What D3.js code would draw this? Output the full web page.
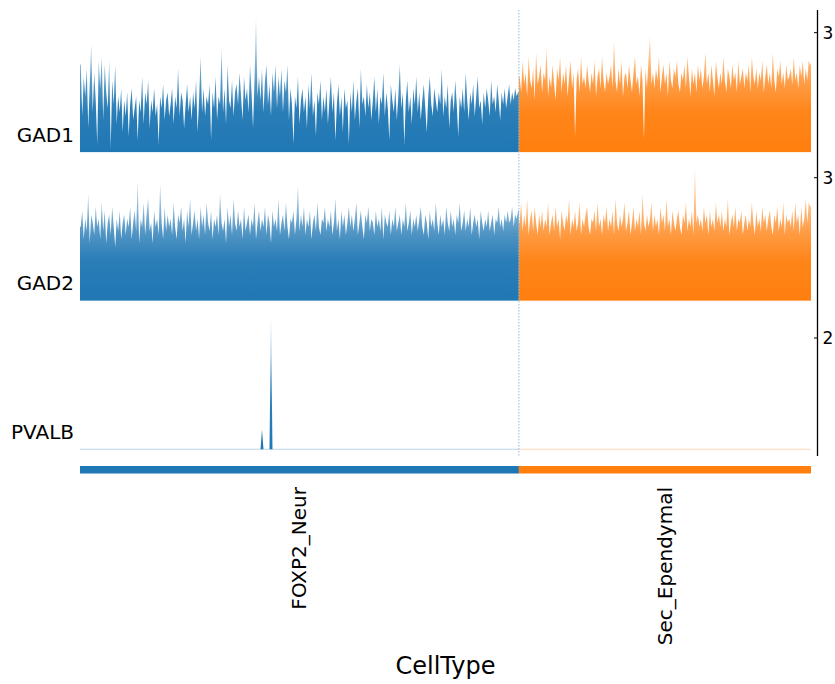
<!DOCTYPE html>
<html>
<head>
<meta charset="utf-8">
<script src="https://cdn.jsdelivr.net/npm/d3@7"></script>
<style>
body { margin: 0; background: #fff; }
svg { display: block; font-family: "DejaVu Sans", sans-serif; }
</style>
</head>
<body>
<div id="chart"></div>
<script>
var groups = ["FOXP2_Neur", "Sec_Ependymal"];
var groupColors = ["#1f77b4", "#ff7f0e"];
var genes = ["GAD1", "GAD2", "PVALB"];
var axisTitle = "CellType";

// per-cell expression, cells ordered by group
var gad1_FOXP2 = [
	2.2, 0.9, 1.9, 1.4, 2.1, 0.6, 1.7, 2.7, 1.0, 2.0, 1.3, 0.2, 2.3, 1.6, 2.4,
	0.8, 2.2, 1.5, 1.1, 2.3, 0.1, 1.8, 1.2, 2.2, 0.7, 1.4, 1.0, 1.6, 0.5, 1.3,
	0.9, 1.5, 0.4, 1.2, 1.6, 0.8, 1.1, 1.4, 0.3, 1.3, 1.0, 1.9, 0.7, 1.5, 1.2,
	1.8, 0.6, 1.3, 1.0, 1.6, 0.9, 1.2, 0.2, 1.4, 1.1, 1.7, 0.8, 1.3, 1.5, 0.9,
	1.2, 1.6, 0.7, 1.4, 1.1, 2.1, 0.9, 1.5, 1.3, 0.6, 1.2, 1.7, 1.0, 1.4, 0.8,
	1.5, 1.1, 1.8, 0.5, 1.3, 2.4, 1.0, 1.6, 0.9, 1.4, 1.2, 1.7, 0.3, 1.5, 1.1,
	1.9, 0.8, 1.4, 1.2, 2.6, 1.0, 1.6, 0.7, 2.2, 1.3, 1.1, 1.8, 0.9, 1.5, 1.7,
	1.2, 2.0, 1.4, 0.8, 1.9, 1.3, 1.6, 1.0, 2.2, 1.5, 0.6, 1.8, 3.4, 1.4, 1.9,
	1.3, 2.1, 1.0, 1.8, 2.2, 1.2, 1.7, 0.9, 2.0, 1.5, 2.2, 1.1, 1.9, 1.4, 2.1,
	1.0, 1.8, 1.5, 2.2, 0.8, 1.6, 1.2, 0.2, 1.4, 1.1, 1.9, 0.7, 1.3, 1.6, 1.0,
	1.4, 0.6, 1.7, 1.1, 2.0, 0.9, 1.3, 0.4, 1.5, 1.2, 1.8, 0.8, 1.4, 1.0, 1.6,
	0.7, 1.3, 1.9, 1.0, 1.5, 0.3, 1.2, 1.7, 0.9, 1.4, 0.5, 1.6, 1.1, 1.3, 0.2,
	1.5, 1.0, 1.8, 0.8, 1.3, 1.6, 0.6, 2.1, 1.2, 1.4, 0.9, 1.7, 1.1, 1.5, 0.8,
	1.3, 1.9, 1.0, 1.6, 0.7, 1.4, 1.2, 2.0, 0.9, 1.5, 1.1, 0.3, 1.7, 1.3, 1.0,
	1.6, 0.8, 1.4, 2.2, 1.1, 1.5, 0.2, 1.3, 1.8, 1.0, 1.4, 0.7, 1.6, 1.2, 1.9,
	1.0, 1.5, 0.8, 1.3, 1.7, 1.1, 0.5, 1.4, 1.9, 1.2, 0.9, 1.6, 1.3, 1.0, 1.5,
	1.2, 2.1, 0.9, 1.4, 1.1, 1.7, 0.6, 1.3, 1.5, 1.0, 1.8, 1.2, 0.4, 1.4, 1.1,
	1.6, 1.0, 2.0, 1.3, 0.8, 1.5, 1.2, 1.7, 0.9, 1.4, 1.9, 1.1, 1.3, 0.7, 1.5,
	1.1, 1.6, 1.3, 0.9, 1.8, 1.2, 1.4, 1.0, 1.7, 1.3, 0.8, 1.5, 1.2, 1.6, 1.1,
	1.4, 1.7, 1.2, 1.5, 1.3, 1.6, 1.4, 1.5
];
var gad1_Sec = [
	1.9, 1.5, 2.3, 1.7, 2.0, 1.4, 2.4, 1.8, 1.6, 2.1, 1.3, 2.5, 1.7, 1.9, 2.2,
	1.5, 2.0, 1.8, 2.6, 1.4, 1.9, 1.6, 2.2, 1.7, 1.3, 2.1, 1.8, 2.4, 1.5, 2.0,
	1.7, 2.2, 1.4, 1.9, 2.3, 1.6, 2.0, 0.4, 1.8, 2.1, 1.5, 2.4, 1.7, 1.9, 1.6,
	2.2, 1.8, 1.5, 2.0, 1.7, 2.3, 1.4, 1.9, 2.1, 1.6, 2.4, 1.8, 1.5, 2.0, 1.7,
	1.9, 2.2, 1.6, 2.8, 1.8, 1.5, 2.1, 1.7, 2.3, 1.4, 1.9, 2.0, 1.6, 2.2, 1.8,
	1.5, 2.0, 2.4, 1.7, 1.9, 1.4, 2.2, 1.8, 0.3, 2.1, 1.6, 2.3, 2.9, 1.7, 2.0,
	1.6, 2.1, 1.8, 2.4, 1.5, 1.9, 2.2, 1.7, 2.0, 1.4, 2.3, 1.8, 1.6, 2.1, 1.9,
	2.3, 1.7, 1.5, 2.0, 1.8, 2.2, 1.6, 2.4, 1.9, 1.4, 2.1, 1.7, 2.0, 1.5, 2.2,
	1.8, 2.1, 1.6, 1.9, 2.5, 1.7, 2.0, 1.5, 2.2, 1.8, 1.4, 2.3, 1.9, 1.6, 2.0,
	1.7, 2.4, 1.8, 1.5, 2.1, 1.9, 1.6, 2.2, 1.8, 2.0, 1.5, 2.3, 1.7, 1.9, 2.1,
	1.6, 2.0, 1.8, 2.2, 1.5, 2.4, 1.9, 1.7, 2.1, 1.6, 2.0, 1.8, 2.3, 1.5, 1.9,
	2.2, 1.7, 2.0, 1.6, 2.5, 1.8, 1.5, 2.1, 1.9, 2.3, 1.7, 2.0, 1.6, 2.2, 1.8,
	1.9, 2.1, 1.7, 2.4, 1.8, 2.0, 1.6, 2.2, 1.9, 2.3, 1.7, 2.1, 1.8, 2.3, 2.2
];
var gad2_FOXP2 = [
	1.8, 2.2, 1.5, 2.0, 1.7, 2.6, 1.4, 2.1, 1.9, 1.6, 2.3, 1.8, 2.0, 1.5, 2.4,
	1.7, 2.2, 1.4, 1.9, 2.1, 1.6, 2.3, 1.8, 1.3, 2.0, 1.7, 2.2, 1.5, 1.9, 2.1,
	1.6, 2.0, 1.8, 2.3, 1.5, 1.9, 2.2, 1.7, 2.9, 1.4, 2.0, 1.8, 2.4, 1.6, 2.1,
	2.5, 1.7, 1.9, 1.4, 2.2, 1.8, 2.0, 1.6, 2.85, 1.9, 1.5, 2.3, 1.7, 2.1, 1.8,
	2.0, 1.6, 2.4, 1.8, 1.5, 2.1, 1.9, 2.3, 1.7, 2.0, 1.4, 2.2, 1.8, 2.5, 1.6,
	1.9, 2.2, 1.7, 2.0, 1.5, 2.3, 1.8, 2.1, 1.6, 2.4, 1.9, 1.7, 2.2, 1.5, 2.0,
	1.8, 2.1, 1.6, 2.6, 1.9, 1.7, 2.0, 1.4, 2.3, 1.8, 2.1, 1.6, 2.5, 1.9, 1.7,
	2.2, 1.8, 2.0, 1.5, 2.3, 1.7, 1.9, 2.1, 1.6, 2.0, 1.8, 2.4, 1.5, 1.9, 2.2,
	1.7, 2.0, 1.8, 2.3, 1.6, 2.1, 1.9, 1.4, 2.2, 1.8, 2.0, 1.7, 2.5, 1.6, 1.9,
	2.1, 1.7, 2.4, 1.8, 1.5, 2.0, 1.9, 2.2, 1.6, 2.0, 2.8, 1.7, 2.1, 1.8, 2.3,
	1.6, 2.0, 1.8, 2.2, 1.5, 1.9, 2.1, 1.7, 2.4, 1.8, 1.6, 2.0, 1.9, 2.3, 1.7,
	2.0, 1.8, 2.2, 1.6, 1.9, 2.5, 1.7, 2.0, 1.5, 2.2, 1.8, 2.1, 1.6, 1.9, 2.3,
	1.8, 2.1, 1.7, 2.0, 2.4, 1.6, 1.9, 2.2, 1.8, 1.5, 2.1, 1.9, 2.3, 1.7, 2.0,
	1.9, 1.6, 2.2, 1.8, 2.0, 1.7, 2.3, 1.5, 2.1, 1.9, 1.8, 2.2, 1.6, 2.0, 1.8,
	2.3, 1.7, 1.9, 2.1, 1.6, 2.0, 1.8, 2.4, 1.7, 1.9, 2.2, 1.6, 2.0, 1.8, 2.1,
	1.7, 2.0, 2.3, 1.8, 1.6, 2.1, 1.9, 1.5, 2.2, 1.8, 2.0, 1.7, 2.4, 1.9, 1.6,
	2.1, 1.8, 2.0, 1.6, 2.3, 1.9, 1.7, 2.2, 1.8, 2.0, 1.6, 2.1, 1.9, 2.4, 1.7,
	1.9, 2.2, 1.7, 2.0, 1.8, 2.3, 1.6, 1.9, 2.1, 1.8, 2.0, 1.5, 2.2, 1.9, 1.7,
	2.0, 1.8, 2.2, 1.7, 1.9, 2.1, 1.6, 2.0, 1.9, 2.3, 1.8, 2.0, 1.7, 2.1, 1.9,
	2.2, 1.9, 2.0, 2.3, 1.8, 2.1, 2.0, 2.2
];
var gad2_Sec = [
	1.9, 2.4, 1.7, 2.1, 1.8, 2.5, 1.6, 2.0, 2.2, 1.7, 2.3, 1.9, 1.6, 2.1, 1.8,
	2.2, 1.7, 2.0, 1.8, 2.4, 1.6, 1.9, 2.1, 1.7, 2.3, 1.8, 2.0, 1.5, 2.2, 1.9,
	1.7, 2.1, 1.9, 2.5, 1.6, 2.0, 1.8, 2.2, 1.7, 1.9, 2.4, 1.6, 2.0, 1.8, 2.1,
	2.3, 1.8, 1.6, 2.0, 1.9, 2.2, 1.7, 2.4, 1.8, 2.0, 1.6, 2.1, 1.9, 2.3, 1.7,
	2.0, 1.8, 2.2, 1.6, 2.5, 1.9, 1.7, 2.1, 1.8, 2.0, 2.4, 1.7, 1.9, 2.2, 1.6,
	1.9, 2.3, 1.7, 2.0, 1.8, 2.2, 1.6, 2.6, 1.9, 1.7, 2.1, 1.8, 2.0, 2.4, 1.7,
	2.1, 1.8, 2.0, 1.6, 2.3, 1.9, 2.1, 1.7, 2.5, 1.8, 2.0, 1.6, 2.2, 1.9, 1.7,
	2.0, 2.2, 1.8, 1.6, 2.1, 1.9, 2.4, 1.7, 2.0, 1.8, 2.2, 1.6, 3.3, 1.9, 2.1,
	1.8, 2.0, 1.7, 2.3, 1.9, 2.1, 1.6, 2.2, 1.8, 2.0, 1.7, 2.4, 1.9, 2.1, 1.8,
	2.2, 1.7, 2.0, 1.8, 2.5, 1.6, 1.9, 2.1, 1.8, 2.3, 1.7, 2.0, 1.9, 2.2, 1.6,
	1.9, 2.1, 1.7, 2.0, 1.8, 2.4, 1.9, 1.6, 2.2, 1.8, 2.0, 1.7, 2.3, 1.9, 2.1,
	1.7, 2.0, 2.2, 1.8, 1.6, 2.1, 1.9, 2.3, 1.7, 2.0, 1.8, 2.4, 1.6, 2.1, 1.9,
	2.0, 1.8, 2.2, 1.7, 2.4, 1.9, 2.1, 1.6, 2.3, 1.8, 2.0, 2.5, 1.9, 2.4, 2.3
];
// PVALB is zero everywhere except two FOXP2_Neur cells: [cell index, value]
var pvalb_FOXP2_nonzero = [[121, 0.36], [127, 2.43]];

var nFoxp2 = gad1_FOXP2.length;
var nSec = gad1_Sec.length;

var pvalb_FOXP2 = d3.range(nFoxp2).map(function() { return 0; });
pvalb_FOXP2_nonzero.forEach(function(p) { pvalb_FOXP2[p[0]] = p[1]; });
var pvalb_Sec = d3.range(nSec).map(function() { return 0; });

var tracks = [
	[gad1_FOXP2, gad1_Sec],
	[gad2_FOXP2, gad2_Sec],
	[pvalb_FOXP2, pvalb_Sec]
];
var groupSizes = [nFoxp2, nSec];
var nCells = nFoxp2 + nSec;

var W = 835, H = 684;
var plotLeft = 80, plotRight = 811, plotTop = 10, trackH = 148.67, spineX = 817.5;

var svg = d3.select("#chart").append("svg")
	.attr("width", W)
	.attr("height", H);
var defs = svg.append("defs");

var x = d3.scaleLinear().domain([0, nCells]).range([plotLeft, plotRight]);

var offsets = [0, nFoxp2];

tracks.forEach(function(track, t) {
	var axTop = plotTop + t * trackH;
	var axBot = axTop + trackH;
	var ymax = d3.max([d3.max(track[0]), d3.max(track[1])]);
	var y = d3.scaleLinear().domain([-0.05 * ymax, 1.05 * ymax]).range([axBot, axTop]);

	var area = d3.area()
		.x(function(d) { return x(d.i); })
		.y0(y(0))
		.y1(function(d) { return y(d.v); });

	track.forEach(function(vals, g) {
		var o = offsets[g];
		var n = vals.length;
		var pts = [{i: o, v: vals[0]}];
		vals.forEach(function(v, j) { pts.push({i: o + j + 0.5, v: v}); });
		pts.push({i: o + n, v: vals[n - 1]});

		// dense cells blend into a lighter top, like the anti-aliased original
		var gid = "fade" + t + "_" + g;
		var grad = defs.append("linearGradient")
			.attr("id", gid)
			.attr("gradientUnits", "userSpaceOnUse")
			.attr("x1", 0).attr("x2", 0)
			.attr("y1", y(0)).attr("y2", y(ymax));
		[[0, 1], [0.3, 0.95], [0.5, 0.78], [0.7, 0.5], [1, 0.25]].forEach(function(s) {
			grad.append("stop")
				.attr("offset", s[0])
				.attr("stop-color", groupColors[g])
				.attr("stop-opacity", s[1]);
		});

		svg.append("line")
			.attr("x1", x(o)).attr("x2", x(o + n))
			.attr("y1", y(0)).attr("y2", y(0))
			.attr("stroke", groupColors[g])
			.attr("stroke-opacity", 0.3)
			.attr("stroke-width", 1);

		svg.append("path")
			.datum(pts)
			.attr("fill", "url(#" + gid + ")")
			.attr("d", area);
	});

	// gene name on the left
	svg.append("text")
		.attr("x", 74)
		.attr("y", axBot - 17)
		.attr("text-anchor", "end")
		.attr("font-size", "20px")
		.attr("fill", "#000")
		.text(genes[t]);

	// one tick on the right spine at int(ylim top)
	var tv = Math.floor(1.05 * ymax);
	svg.append("line")
		.attr("x1", spineX - 3.5).attr("x2", spineX)
		.attr("y1", y(tv)).attr("y2", y(tv))
		.attr("stroke", "#000").attr("stroke-width", 1);
	svg.append("text")
		.attr("x", spineX + 5)
		.attr("y", y(tv))
		.attr("dy", "0.36em")
		.attr("font-size", "17px")
		.attr("fill", "#000")
		.text(String(tv));
});

var axBottom = plotTop + 3 * trackH;

// right spine
svg.append("line")
	.attr("x1", spineX).attr("x2", spineX)
	.attr("y1", plotTop).attr("y2", axBottom)
	.attr("stroke", "#000").attr("stroke-width", 1.3);

// group separator
svg.append("line")
	.attr("x1", x(nFoxp2)).attr("x2", x(nFoxp2))
	.attr("y1", plotTop).attr("y2", axBottom)
	.attr("stroke", "#8fbde0")
	.attr("stroke-width", 1)
	.attr("stroke-dasharray", "1.5,1.5");

// group colour bar and labels
var cum = 0;
groups.forEach(function(name, g) {
	var x0 = x(cum), x1 = x(cum + groupSizes[g]);
	cum += groupSizes[g];
	svg.append("rect")
		.attr("x", x0).attr("y", 466)
		.attr("width", x1 - x0).attr("height", 7.5)
		.attr("fill", groupColors[g]);
	svg.append("text")
		.attr("transform", "translate(" + ((x0 + x1) / 2) + ",487) rotate(-90)")
		.attr("text-anchor", "end")
		.attr("dy", "0.35em")
		.attr("font-size", "20px")
		.attr("fill", "#000")
		.text(name);
});

svg.append("text")
	.attr("x", (plotLeft + plotRight) / 2)
	.attr("y", 674)
	.attr("text-anchor", "middle")
	.attr("font-size", "24px")
	.attr("fill", "#000")
	.text(axisTitle);
</script>
</body>
</html>
